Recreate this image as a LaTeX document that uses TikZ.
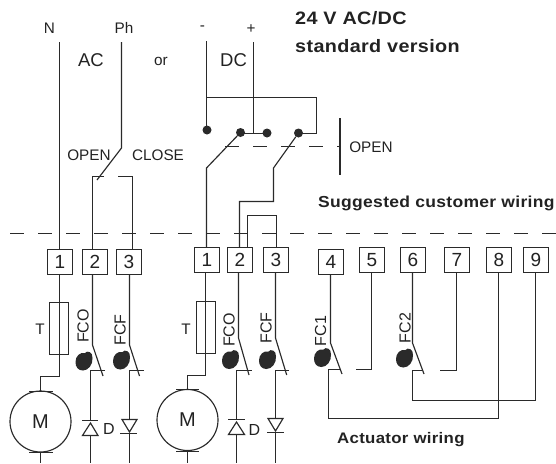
\documentclass[tikz,border=0pt]{standalone}
\usepackage{fontspec}
\setmainfont{Liberation Sans}
\newfontfamily\boldlbl[FakeStretch=1.1,LetterSpace=2]{Liberation Sans Bold}
\usetikzlibrary{calc}
\definecolor{wirec}{HTML}{2A2A2A}
\definecolor{txtc}{HTML}{222222}
\tikzset{
  wire/.style={draw=wirec,line width=1.15pt,line cap=butt,line join=miter},
  dashwire/.style={draw=wirec,line width=1.15pt,dash pattern=on 14pt off 14pt},
  termbox/.style={draw=wirec,line width=1.15pt,fill=white,minimum width=25pt,minimum height=25pt,inner sep=0pt,text=txtc,font=\fontsize{19}{19}\selectfont},
  lbl/.style={text=txtc,inner sep=0pt,font=\fontsize{15.3}{15.3}\selectfont},
  biglbl/.style={text=txtc,inner sep=0pt,font=\fontsize{18.5}{18.5}\selectfont},
  dlbl/.style={text=txtc,inner sep=0pt,font=\fontsize{16}{16}\selectfont},
  rotlbl/.style={text=txtc,inner sep=0pt,rotate=90,font=\fontsize{16}{16}\selectfont},
  headlbl/.style={text=txtc,inner sep=0pt,anchor=west,font=\boldlbl\fontsize{18}{18}\selectfont},
  sublbl/.style={text=txtc,inner sep=0pt,anchor=west,font=\boldlbl\fontsize{15.3}{15.3}\selectfont},
  sublblb/.style={text=txtc,inner sep=0pt,anchor=west,font=\boldlbl\fontsize{15.9}{15.9}\selectfont},
  dotc/.style={circle,fill=wirec,draw=none,minimum size=9pt,inner sep=0pt},
  motor/.style={circle,draw=wirec,line width=1.15pt,minimum size=61pt,inner sep=0pt,text=txtc,font=\fontsize{20}{20}\selectfont},
  fuse/.style={draw=wirec,line width=1.15pt,minimum width=19pt,minimum height=52pt,inner sep=0pt},
}
\newcommand{\cam}[2]{%
  \fill[wirec] (#1-8.5,#2+1) .. controls (#1-8.5,#2-5) and (#1-4,#2-9) .. (#1+1,#2-8)
    .. controls (#1+3,#2-11) and (#1+9,#2-9) .. (#1+8.5,#2-3)
    .. controls (#1+9,#2+4) and (#1+4,#2+9.5) .. (#1-1,#2+9.5)
    .. controls (#1-6,#2+9.5) and (#1-8.5,#2+6) .. (#1-8.5,#2+1) -- cycle;}
\newcommand{\barline}[3]{\draw[wire] (#1,#3) -- (#2,#3);}
\begin{document}
\begin{tikzpicture}[x=1pt,y=-1pt]
\useasboundingbox (0,0) rectangle (556,463);
% dashed separators
\coordinate (sl) at (10,233.5); \coordinate (sr) at (556,233.5);
\draw[dashwire] (sl) -- (sr);
\coordinate (al) at (225,146.5); \coordinate (ar) at (340,146.5);
\draw[dashwire] (al) -- (ar);
\coordinate (ob1) at (340,118); \coordinate (ob2) at (340,175);
\draw[draw=wirec,line width=2pt] (ob1) -- (ob2);
% terminals
\node[termbox] (a1) at (60,262) {1};
\node[termbox] (a2) at (95,262) {2};
\node[termbox] (a3) at (129,262) {3};
\node[termbox] (b1) at (207,260) {1};
\node[termbox] (b2) at (240,260) {2};
\node[termbox] (b3) at (276,260) {3};
\node[termbox] (c4) at (331,262) {4};
\node[termbox] (c5) at (372,260) {5};
\node[termbox] (c6) at (413,260) {6};
\node[termbox] (c7) at (457,260) {7};
\node[termbox] (c8) at (499,260) {8};
\node[termbox] (c9) at (536,260) {9};
% top labels
\node[lbl] (tN) at (49.5,28) {N};
\node[lbl] (tPh) at (124,28) {Ph};
\node[biglbl] (tAC) at (91,60) {AC};
\node[lbl] (tor) at (161,61) {or};
\node[biglbl] (tDC) at (233.5,60) {DC};
\node[lbl] (tm) at (202.5,28) {-};
\node[lbl] (tp) at (251,29) {+};
\node[lbl] (tO) at (89,155) {OPEN};
\node[lbl] (tC) at (158,155) {CLOSE};
\node[lbl] (tO2) at (371,147) {OPEN};
\node[headlbl] (h1) at (295,18) {24 V AC/DC};
\node[headlbl] (h2) at (295,46) {standard version};
\node[sublblb] (h3) at (318,203) {Suggested customer wiring};
\node[sublbl] (h4) at (337,440) {Actuator wiring};
% AC supply
\coordinate (nt) at (59.5,42);
\draw[wire] (nt) -- (nt |- a1.north);
\coordinate (pt) at (121.5,42); \coordinate (pk) at (121.5,148); \coordinate (pe) at (97,180);
\draw[wire] (pt) -- (pk) -- (pe);
\coordinate (o1) at (104,176.5); \coordinate (o2) at (92.5,176.5);
\draw[wire] (o1) -- (o2) -- (o2 |- a2.north);
\coordinate (c1) at (118,176.5); \coordinate (c2) at (132.5,176.5);
\draw[wire] (c1) -- (c2) -- (c2 |- a3.north);
% DC supply
\node[dotc] (d1) at (207,130) {};
\node[dotc] (d2) at (240.5,132.5) {};
\node[dotc] (d3) at (267,133) {};
\node[dotc] (d4) at (298.5,133) {};
\coordinate (mt) at (206.5,41); \coordinate (pl) at (253.5,42);
\draw[wire] (mt) -- (mt |- d1);
\draw[wire] (pl) -- (253.5,133.5);
\draw[wire] (240.5,133.5) -- (267,133.5);
\coordinate (hr) at (316.5,97.5);
\draw[wire] (206.5,97.5) -- (hr) -- (316.5,133.5) -- (298.5,133.5);
\coordinate (k1) at (206.5,168);
\draw[wire] (d2) -- (k1) -- (k1 |- b1.north);
\coordinate (k2) at (273.5,168); \coordinate (k3) at (273.5,201.5); \coordinate (k4) at (239.5,201.5);
\draw[wire] (d4) -- (k2) -- (k3) -- (k4) -- (k4 |- b2.north);
\coordinate (s1) at (247.5,215.5); \coordinate (s2) at (276.5,215.5);
\draw[wire] (s1 |- b2.north) -- (s1) -- (s2) -- (s2 |- b3.north);
% Left actuator
\node[fuse] (f1) at (59,328.5) {};
\node[motor] (m1) at (40.5,421.5) {M};
\node[lbl] (t1) at (40,329) {T};
\draw[wire] (59.5,0 |- a1.south) -- (59.5,376.5) -- (40.5,376.5) -- (40.5,391.5);
\barline{29}{53}{391.5}
\barline{29}{53}{452.5}
\coordinate (m1b) at (40.5,452.5); \coordinate (m1e) at (40.5,463);
\draw[wire] (m1b) -- (m1e);
\node[rotlbl] (fco1) at (83,326) {FCO};
\node[rotlbl] (fcf1) at (120,330) {FCF};
\cam{84}{361}
\cam{121.5}{360}
\draw[wire] (92.5,0 |- a2.south) -- (92.5,345) -- (103,376);
\draw[wire] (129.5,0 |- a3.south) -- (129.5,345) -- (139.5,376);
\draw[wire] (105,370.5) -- (90.5,370.5) -- (90.5,420.5);
\barline{82}{98}{420.5}
\draw[wire] (90.5,423) -- (82.5,435.5) -- (98,435.5) -- cycle;
\draw[wire] (90.5,435.5) -- (90.5,463);
\draw[wire] (144,370.5) -- (129.5,370.5) -- (129.5,419.5);
\draw[wire] (122,419.5) -- (137,419.5) -- (129.5,432) -- cycle;
\barline{120}{137}{433.5}
\draw[wire] (129.5,433.5) -- (129.5,463);
\node[dlbl] (dd1) at (109,429) {D};
% Middle actuator
\node[fuse] (f2) at (206,327.5) {};
\node[motor] (m2) at (187.5,420) {M};
\node[lbl] (t2) at (186,329) {T};
\draw[wire] (205.5,0 |- b1.south) -- (205.5,375.5) -- (187.5,375.5) -- (187.5,389.5);
\barline{176}{199}{389.5}
\barline{176}{199}{451.5}
\coordinate (m2b) at (187.5,451.5); \coordinate (m2e) at (187.5,463);
\draw[wire] (m2b) -- (m2e);
\node[rotlbl] (fco2) at (229,330) {FCO};
\node[rotlbl] (fcf2) at (266,328) {FCF};
\cam{230.5}{359.5}
\cam{267.5}{359.5}
\draw[wire] (238.5,0 |- b2.south) -- (238.5,338) -- (249,375);
\draw[wire] (275.5,0 |- b3.south) -- (275.5,338) -- (286.7,375);
\draw[wire] (251.7,370.5) -- (236.5,370.5) -- (236.5,419.5);
\barline{228}{245}{419.5}
\draw[wire] (236.5,422) -- (228.5,434.5) -- (244.5,434.5) -- cycle;
\draw[wire] (236.5,434.5) -- (236.5,463);
\draw[wire] (289,370.5) -- (275.5,370.5) -- (275.5,418.5);
\draw[wire] (268,418.5) -- (283,418.5) -- (275.5,431) -- cycle;
\barline{267}{284}{432.5}
\draw[wire] (275.5,432.5) -- (275.5,463);
\node[dlbl] (dd2) at (254.5,430) {D};
% Right actuator wiring
\node[rotlbl] (fc1) at (320.7,331) {FC1};
\node[rotlbl] (fc2) at (405,328) {FC2};
\cam{322.5}{357.5}
\cam{404.5}{358}
\draw[wire] (330.5,0 |- c4.south) -- (330.5,343) -- (342,374);
\draw[wire] (412.5,0 |- c6.south) -- (412.5,343) -- (424,374);
\draw[wire] (340,369.5) -- (328.5,369.5) -- (328.5,418.5) -- (498.5,418.5) -- (498.5,0 |- c8.south);
\draw[wire] (356,369.5) -- (371.5,369.5) -- (371.5,0 |- c5.south);
\draw[wire] (423,370.5) -- (412.5,370.5) -- (412.5,400.5) -- (535.5,400.5) -- (535.5,0 |- c9.south);
\draw[wire] (440,370.5) -- (456.5,370.5) -- (456.5,0 |- c7.south);
\end{tikzpicture}
\end{document}
